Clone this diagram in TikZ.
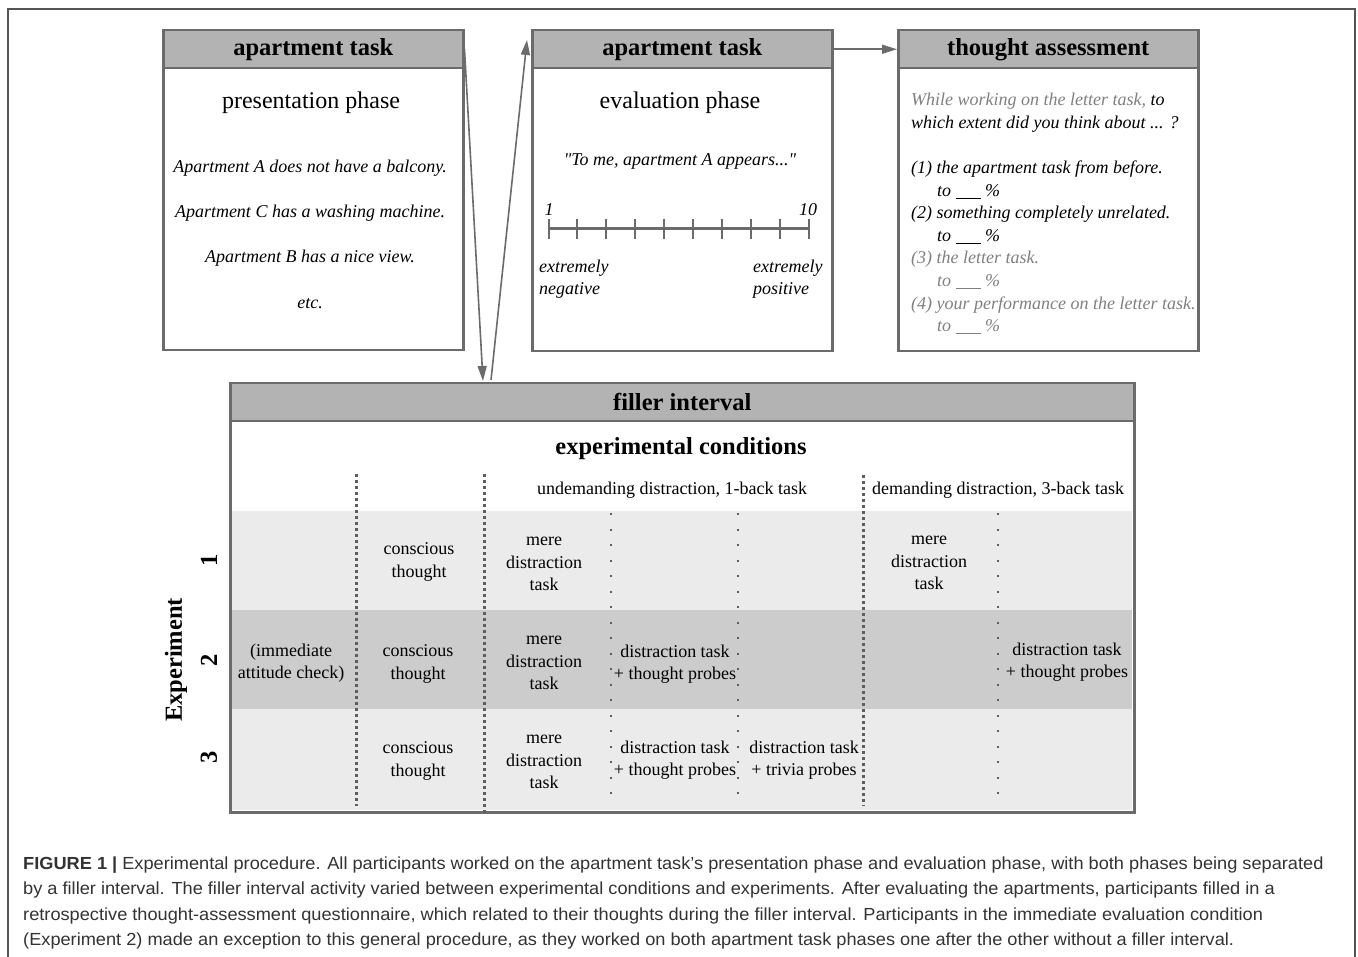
\documentclass[tikz,border=0pt]{standalone}
\usepackage{fontspec}
\setmainfont{Liberation Serif}
\newfontfamily\rawserif{Liberation Serif}
\newfontfamily\capfont{Liberation Sans}[FakeStretch=1.04]
\usetikzlibrary{arrows.meta}
\definecolor{edge}{HTML}{6B6B6B}
\definecolor{frame}{HTML}{555555}
\definecolor{hdrfill}{HTML}{B3B3B3}
\definecolor{rowlight}{HTML}{EBEBEB}
\definecolor{rowdark}{HTML}{CCCCCC}
\definecolor{txtgray}{HTML}{808080}
\definecolor{dotc}{HTML}{5E5E5E}
\definecolor{capc}{HTML}{333333}
\newcommand\myblank{\rule[-2pt]{25pt}{0.7pt}}
\begin{document}
\begin{tikzpicture}[x=1pt,y=-1pt,
  panel/.style={draw=edge, line width=2.5pt, fill=white, anchor=north west, inner sep=0pt},
  hdr/.style={draw=edge, line width=2.5pt, fill=hdrfill, anchor=north west, inner sep=0pt, minimum height=38pt, font=\fontsize{24.5}{28}\selectfont\bfseries},
  big/.style={inner sep=0pt, font=\fontsize{24}{28}\selectfont},
  bigb/.style={inner sep=0pt, font=\fontsize{24.5}{28}\selectfont\bfseries},
  itl/.style={inner sep=0pt, font=\fontsize{18}{22.5}\selectfont\itshape},
  ln/.style={itl, anchor=west, text height=13pt, text depth=4pt},
  cell/.style={inner sep=0pt, align=center, font=\fontsize{18}{22.4}\selectfont},
  arr/.style={draw=edge, line width=1.6pt, -{Triangle[length=15pt,width=9pt]}},
  thickdot/.style={draw=dotc, line width=3pt, dash pattern=on 3pt off 3pt},
  thindot/.style={draw=dotc, line width=2pt, dash pattern=on 2pt off 13.5pt},
  capline/.style={anchor=base west, inner sep=0pt, text=capc, font=\capfont\fontsize{17.5}{20}\selectfont},
]
\useasboundingbox (0,0) rectangle (1358,957);
\fill[white] (0,0) rectangle (1358,957);
% outer frame (open at the bottom)
\draw[frame, line width=1.4pt] (8,957) -- (8,9) -- (1355,9) -- (1355,957);

% ---------- box 1: presentation phase
\node[panel, minimum width=300pt, minimum height=320pt] (p1) at (162,29) {};
\node[hdr, minimum width=300pt] (h1) at (162,29) {apartment task};
\node[big] (pres) at (311,103) {presentation phase};
\node[itl] (s1) at (310,168) {Apartment A does not have a balcony.};
\node[itl] (s2) at (310,213) {Apartment C has a washing machine.};
\node[itl] (s3) at (310,258) {Apartment B has a nice view.};
\node[itl] (s4) at (310,304) {etc.};

% ---------- box 2: evaluation phase
\node[panel, minimum width=300pt, minimum height=321pt] (p2) at (531,29) {};
\node[hdr, minimum width=300pt] (h2) at (531,29) {apartment task};
\node[big] (evalp) at (680,103) {evaluation phase};
\node[itl, font=\rawserif\fontsize{18}{22.5}\selectfont\itshape] (quote) at (680,161) {"To me, apartment A appears..."};
\draw[edge, line width=3pt] (548,229) -- (809,229);
\foreach \i in {0,...,9}{
  \draw[edge, line width=2pt] (548.5+\i*28.93,219) -- (548.5+\i*28.93,239);
}
\node[itl] (one) at (549,210) {1};
\node[itl] (ten) at (808,210) {10};
\node[itl, align=left, anchor=west] (neg) at (539,279) {extremely\\negative};
\node[itl, align=left, anchor=west] (pos) at (753,279) {extremely\\positive};

% ---------- box 3: thought assessment
\node[panel, minimum width=300pt, minimum height=321pt] (p3) at (897,29) {};
\node[hdr, minimum width=300pt] (h3) at (897,29) {thought assessment};
\node[ln] (q1) at (911,101) {\textcolor{txtgray}{While working on the letter task,} to};
\node[ln] (q2) at (911,124) {which extent did you think about ... ?};
\node[ln] (q3) at (911,169) {(1) the apartment task from before.};
\node[ln] (q4) at (937,192) {to \myblank\ \%};
\node[ln] (q5) at (911,214) {(2) something completely unrelated.};
\node[ln] (q6) at (937,237) {to \myblank\ \%};
\node[ln, text=txtgray] (q7) at (911,259) {(3) the letter task.};
\node[ln, text=txtgray] (q8) at (937,282) {to \myblank\ \%};
\node[ln, text=txtgray] (q9) at (911,305) {(4) your performance on the letter task.};
\node[ln, text=txtgray] (q10) at (937,327) {to \myblank\ \%};

% ---------- filler interval
\node[panel, minimum width=904pt, minimum height=429pt] (fb) at (229,382) {};
\fill[rowlight] (230.5,511) rectangle (1132,610);
\fill[rowdark]  (230.5,610) rectangle (1132,709);
\fill[rowlight] (230.5,709) rectangle (1132,810);
\node[panel, fill=none, minimum width=904pt, minimum height=429pt] (fbb) at (229,382) {};
\node[hdr, minimum width=904pt] (fh) at (229,382) {filler interval};
\node[bigb] (expc) at (681,449) {experimental conditions};
\node[cell] (und) at (672,490) {undemanding distraction, 1-back task};
\node[cell] (dem) at (998,490) {demanding distraction, 3-back task};

% dotted separators
\draw[thickdot] (356,474) -- (356,806);
\draw[thickdot] (484,474) -- (484,813);
\draw[thickdot] (863,475) -- (863,806);
\draw[thindot] (611,513) -- (611,800);
\draw[thindot] (738,513) -- (738,800);
\draw[thindot] (998,513) -- (998,800);

% row 1
\node[cell] (c11) at (419,562) {conscious\\thought};
\node[cell] (c12) at (544,564) {mere\\distraction\\task};
\node[cell] (c15) at (929,563) {mere\\distraction\\task};
% row 2
\node[cell] (c20) at (291,663) {(immediate\\attitude check)};
\node[cell] (c21) at (418,664) {conscious\\thought};
\node[cell] (c22) at (544,663) {mere\\distraction\\task};
\node[cell] (c23) at (675,664) {distraction task\\+ thought probes};
\node[cell] (c26) at (1067,662) {distraction task\\+ thought probes};
% row 3
\node[cell] (c31) at (418,761) {conscious\\thought};
\node[cell] (c32) at (544,762) {mere\\distraction\\task};
\node[cell] (c33) at (675,760) {distraction task\\+ thought probes};
\node[cell] (c34) at (804,760) {distraction task\\+ trivia probes};

% experiment labels
\node[bigb, rotate=90] (expl) at (176,660) {Experiment};
\node[bigb, rotate=90] (e1) at (209,560) {1};
\node[bigb, rotate=90] (e2) at (209,660) {2};
\node[bigb, rotate=90] (e3) at (209,757) {3};

% ---------- arrows
\coordinate (a1end) at (483,381);
\coordinate (a2start) at (491,380);
\coordinate (a2end) at (527,40);
\draw[arr] (h1.east) -- (a1end);
\draw[arr] (a2start) -- (a2end);
\draw[arr] (h2.east) -- (h3.west);

% ---------- caption
\node[capline] (cap1) at (23,869) {\textbf{FIGURE 1 |} Experimental procedure. All participants worked on the apartment task’s presentation phase and evaluation phase, with both phases being separated};
\node[capline] (cap2) at (23,894) {by a filler interval. The filler interval activity varied between experimental conditions and experiments. After evaluating the apartments, participants filled in a};
\node[capline] (cap3) at (23,920) {retrospective thought-assessment questionnaire, which related to their thoughts during the filler interval. Participants in the immediate evaluation condition};
\node[capline] (cap4) at (23,945) {(Experiment 2) made an exception to this general procedure, as they worked on both apartment task phases one after the other without a filler interval.};
\end{tikzpicture}
\end{document}
